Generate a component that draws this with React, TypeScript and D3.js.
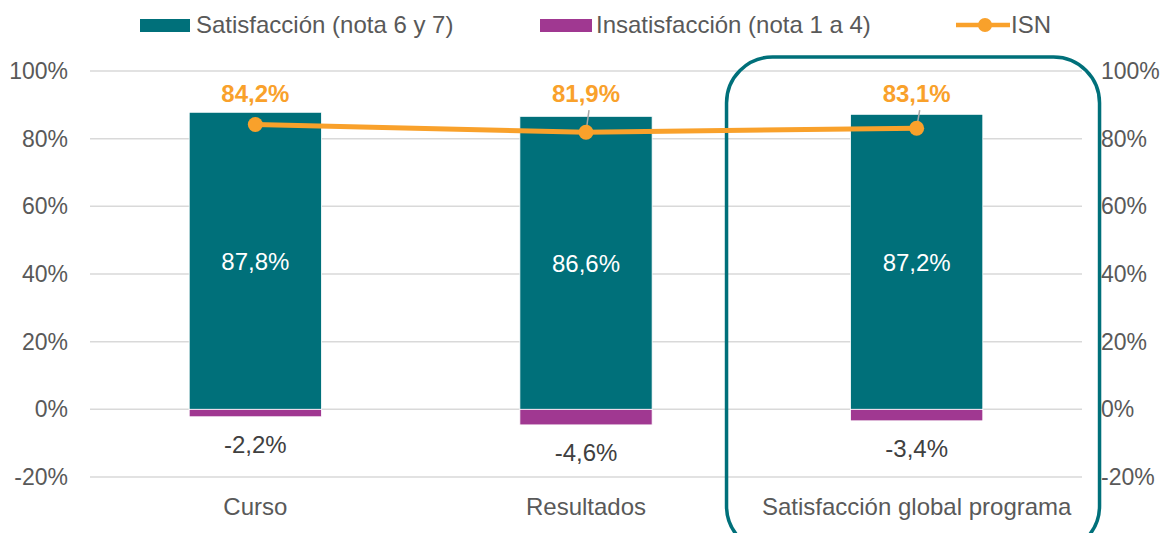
import React, { useEffect } from 'react';
import * as d3 from 'd3';

const categories = ['Curso', 'Resultados', 'Satisfacción global programa'];
const satisfaccion = [0.878, 0.866, 0.872];
const insatisfaccion = [-0.022, -0.046, -0.034];
const isn = [0.842, 0.819, 0.831];
const yTicks = [-0.2, 0, 0.2, 0.4, 0.6, 0.8, 1.0];
const legendLabels = ['Satisfacción (nota 6 y 7)', 'Insatisfacción (nota 1 a 4)', 'ISN'];

const TEAL = '#00707a';
const PURPLE = '#a03891';
const ORANGE = '#f9a12b';
const GRID = '#d9d9d9';
const TEXT = '#595959';
const FONT = '"Liberation Sans", Arial, sans-serif';

const fmt = (v: number) => (v * 100).toFixed(1).replace('.', ',') + '%';

const App: React.FC = () => {
  useEffect(() => {
    document.body.style.margin = '0';
  }, []);

  const width = 1166;
  const height = 533;
  const left = 90;
  const right = 1082;

  const x = d3.scaleBand<string>().domain(categories).range([left, right]).paddingInner(0.6).paddingOuter(0.3);
  const y = d3.scaleLinear().domain([-0.2, 1.0]).range([477, 71]);
  const bw = x.bandwidth();
  const cx = (c: string) => (x(c) as number) + bw / 2;

  const line = d3.line<number>()
    .x((_, i) => cx(categories[i]))
    .y(d => y(d));

  const labelBase = y(0.908);
  const hi = categories[2];

  return (
    <svg width={width} height={height} style={{ display: 'block', fontFamily: FONT }}>
      {/* legend */}
      <g fontSize={24} fill={TEXT}>
        <rect x={140} y={19} width={50} height={13} fill={TEAL} />
        <text x={196} y={33}>{legendLabels[0]}</text>
        <rect x={540} y={19} width={52} height={13} fill={PURPLE} />
        <text x={596} y={33}>{legendLabels[1]}</text>
        <line x1={956} x2={1010} y1={25} y2={25} stroke={ORANGE} strokeWidth={4.5} />
        <circle cx={985} cy={25} r={7} fill={ORANGE} />
        <text x={1011} y={33}>{legendLabels[2]}</text>
      </g>

      {/* grid */}
      {yTicks.map(t => (
        <line key={t} x1={left} x2={right} y1={y(t)} y2={y(t)} stroke={GRID} strokeWidth={1.5} />
      ))}

      {/* axes labels */}
      <g fontSize={23} fill={TEXT}>
        {yTicks.map(t => (
          <text key={'l' + t} x={68} y={y(t) + 8} textAnchor="end">{Math.round(t * 100) + '%'}</text>
        ))}
        {yTicks.map(t => (
          <text key={'r' + t} x={1101} y={y(t) + 8} textAnchor="start">{Math.round(t * 100) + '%'}</text>
        ))}
      </g>
      <g fontSize={24} fill={TEXT}>
        {categories.map(c => (
          <text key={c} x={cx(c)} y={515} textAnchor="middle">{c}</text>
        ))}
      </g>

      {/* bars */}
      {categories.map((c, i) => (
        <g key={c}>
          <rect x={x(c)} y={y(satisfaccion[i])} width={bw} height={y(0) - y(satisfaccion[i])}
            fill={TEAL} stroke="#fff" strokeWidth={0.8} />
          <rect x={x(c)} y={y(0)} width={bw} height={y(insatisfaccion[i]) - y(0)}
            fill={PURPLE} stroke="#fff" strokeWidth={0.8} />
          <text x={cx(c)} y={(y(satisfaccion[i]) + y(0)) / 2 + 9} textAnchor="middle" fontSize={24} fill="#fff">
            {fmt(satisfaccion[i])}
          </text>
          <text x={cx(c)} y={y(insatisfaccion[i]) + 36} textAnchor="middle" fontSize={24} fill="#404040">
            {fmt(insatisfaccion[i])}
          </text>
        </g>
      ))}

      {/* highlight box */}
      <rect x={(x(hi) as number) - 124} y={57} width={373} height={495} rx={46} ry={46}
        fill="none" stroke={TEAL} strokeWidth={3.5} />

      {/* ISN line */}
      <path d={line(isn) || ''} fill="none" stroke={ORANGE} strokeWidth={5} />
      {isn.map((v, i) => {
        const px = cx(categories[i]);
        const py = y(v);
        const leader = py - labelBase > 24;
        return (
          <g key={i}>
            {leader && (
              <line x1={px + 3} y1={labelBase + 8} x2={px} y2={py} stroke="#a6a6a6" strokeWidth={1.5} />
            )}
            <circle cx={px} cy={py} r={7.5} fill={ORANGE} />
            <text x={px} y={labelBase} textAnchor="middle" fontSize={24} fontWeight="bold" fill={ORANGE}>
              {fmt(v)}
            </text>
          </g>
        );
      })}
    </svg>
  );
};

export default App;
